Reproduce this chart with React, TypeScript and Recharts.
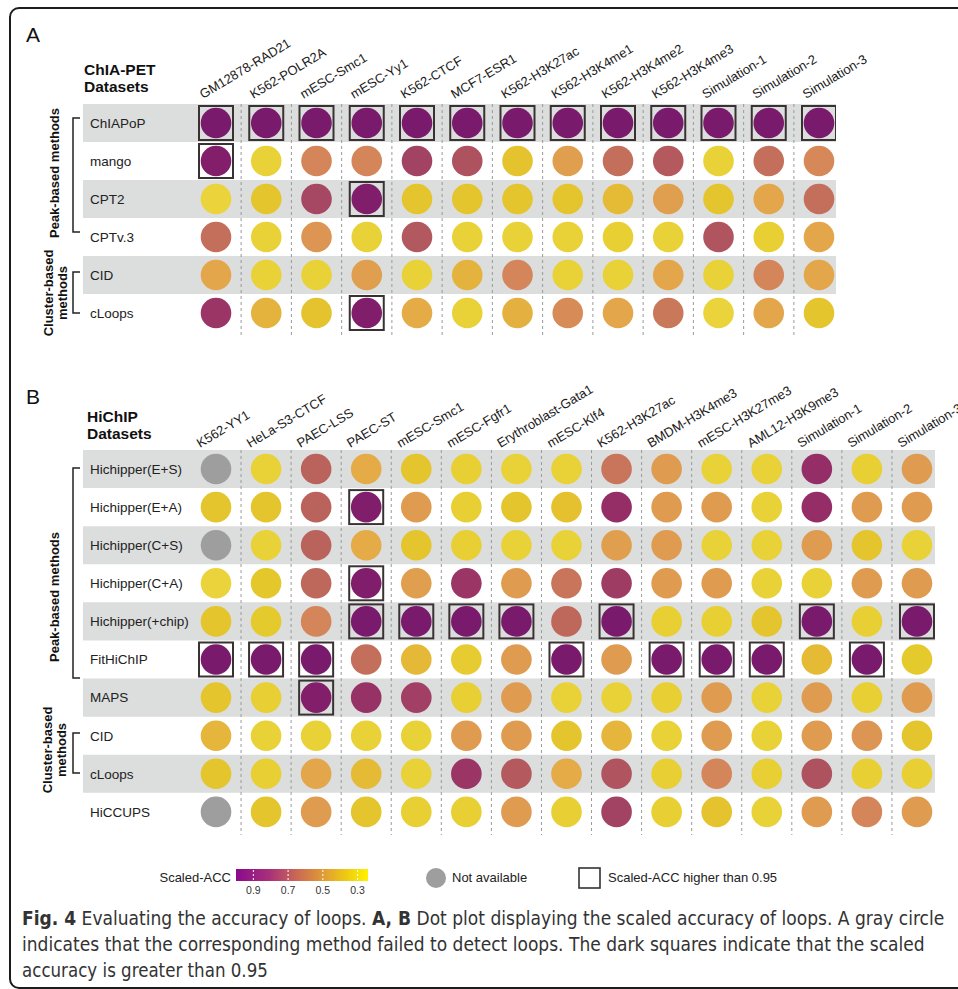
import React, { useLayoutEffect, useRef, useState } from 'react'
import { ScatterChart, Scatter, XAxis, YAxis, ReferenceArea, ReferenceLine } from 'recharts'

const FONT = '"Liberation Sans", Arial, Helvetica, sans-serif'
const CAPTION_FONT = '"DejaVu Sans Condensed", "Liberation Sans Narrow", sans-serif'

// ---- Panel A: ChIA-PET ----
const CHIA_COLS = [
  'GM12878-RAD21', 'K562-POLR2A', 'mESC-Smc1', 'mESC-Yy1', 'K562-CTCF', 'MCF7-ESR1',
  'K562-H3K27ac', 'K562-H3K4me1', 'K562-H3K4me2', 'K562-H3K4me3',
  'Simulation-1', 'Simulation-2', 'Simulation-3',
]
const CHIA_ROWS = ['ChIAPoP', 'mango', 'CPT2', 'CPTv.3', 'CID', 'cLoops']
const CHIA_ACC: (number | null)[][] = [
  [1, 1, 1, 1, 1, 1, 1, 1, 1, 1, 1, 1, 1],
  [0.96, 0.32, 0.6, 0.6, 0.82, 0.77, 0.38, 0.52, 0.67, 0.74, 0.32, 0.67, 0.59],
  [0.31, 0.37, 0.81, 0.97, 0.37, 0.37, 0.37, 0.37, 0.42, 0.52, 0.37, 0.5, 0.67],
  [0.67, 0.32, 0.55, 0.32, 0.75, 0.32, 0.32, 0.32, 0.33, 0.32, 0.76, 0.33, 0.5],
  [0.5, 0.32, 0.32, 0.52, 0.32, 0.45, 0.6, 0.32, 0.32, 0.5, 0.32, 0.6, 0.5],
  [0.86, 0.45, 0.38, 0.97, 0.48, 0.32, 0.46, 0.58, 0.5, 0.64, 0.31, 0.5, 0.37],
]

// ---- Panel B: HiChIP ----
const HICHIP_COLS = [
  'K562-YY1', 'HeLa-S3-CTCF', 'PAEC-LSS', 'PAEC-ST', 'mESC-Smc1', 'mESC-Fgfr1',
  'Erythroblast-Gata1', 'mESC-Klf4', 'K562-H3K27ac', 'BMDM-H3K4me3', 'mESC-H3K27me3',
  'AML12-H3K9me3', 'Simulation-1', 'Simulation-2', 'Simulation-3',
]
const HICHIP_ROWS = [
  'Hichipper(E+S)', 'Hichipper(E+A)', 'Hichipper(C+S)', 'Hichipper(C+A)', 'Hichipper(+chip)',
  'FitHiChIP', 'MAPS', 'CID', 'cLoops', 'HiCCUPS',
]
const HICHIP_ACC: (number | null)[][] = [
  [null, 0.32, 0.71, 0.48, 0.37, 0.33, 0.32, 0.32, 0.65, 0.53, 0.32, 0.32, 0.88, 0.33, 0.53],
  [0.37, 0.37, 0.71, 0.97, 0.53, 0.33, 0.37, 0.39, 0.88, 0.53, 0.53, 0.32, 0.88, 0.53, 0.53],
  [null, 0.32, 0.71, 0.48, 0.37, 0.33, 0.32, 0.32, 0.52, 0.53, 0.32, 0.32, 0.53, 0.37, 0.32],
  [0.31, 0.36, 0.69, 0.97, 0.52, 0.86, 0.53, 0.65, 0.84, 0.53, 0.53, 0.32, 0.32, 0.53, 0.53],
  [0.37, 0.35, 0.6, 1, 1, 1, 1, 0.69, 1, 0.33, 0.33, 0.37, 1, 0.33, 1],
  [1, 1, 1, 0.67, 0.43, 0.34, 0.53, 1, 0.53, 1, 1, 1, 0.42, 1, 0.35],
  [0.37, 0.33, 0.96, 0.87, 0.83, 0.33, 0.53, 0.32, 0.32, 0.33, 0.53, 0.32, 0.53, 0.33, 0.53],
  [0.44, 0.32, 0.32, 0.32, 0.32, 0.53, 0.53, 0.37, 0.44, 0.32, 0.53, 0.32, 0.53, 0.55, 0.37],
  [0.37, 0.33, 0.5, 0.42, 0.32, 0.86, 0.74, 0.48, 0.76, 0.33, 0.6, 0.33, 0.77, 0.33, 0.33],
  [null, 0.37, 0.53, 0.37, 0.33, 0.33, 0.53, 0.33, 0.82, 0.33, 0.38, 0.32, 0.53, 0.6, 0.53],
]

const LEGEND_TICKS = [0.9, 0.7, 0.5, 0.3]
const HIGH_CUTOFF = 0.95

// colour ramp sampled from the dots
const ACC_STOPS: [number, string][] = [
  [0.30, '#ECD73E'],
  [0.36, '#E4C72B'],
  [0.42, '#E5BB35'],
  [0.50, '#E3A64B'],
  [0.60, '#D4855A'],
  [0.70, '#BC655B'],
  [0.80, '#A84A62'],
  [0.90, '#902768'],
  [1.00, '#7A1A6C'],
]

function hex(c: string) {
  return [1, 3, 5].map(i => parseInt(c.slice(i, i + 2), 16))
}

function accColor(v: number) {
  if (v <= ACC_STOPS[0][0]) return ACC_STOPS[0][1]
  for (let i = 1; i < ACC_STOPS.length; i++) {
    const [v1, c1] = ACC_STOPS[i]
    if (v <= v1) {
      const [v0, c0] = ACC_STOPS[i - 1]
      const t = (v - v0) / (v1 - v0)
      const a = hex(c0), b = hex(c1)
      const m = a.map((x, k) => Math.round(x + (b[k] - x) * t))
      return `rgb(${m[0]},${m[1]},${m[2]})`
    }
  }
  return ACC_STOPS[ACC_STOPS.length - 1][1]
}

function Dot(props: any) {
  const { cx, cy, payload } = props
  if (cx == null || cy == null) return <g />
  const v = payload.v
  return (
    <g>
      <circle cx={cx} cy={cy} r={15.3} fill={v == null ? '#9E9E9E' : accColor(v)} />
      {v != null && v > HIGH_CUTOFF && (
        <rect x={cx - 17} y={cy - 17} width={34} height={34} fill="none" stroke="#3a3232" strokeWidth={2} />
      )}
    </g>
  )
}

type PanelProps = {
  cols: string[]
  rows: string[]
  acc: (number | null)[][]
  top: number
  height: number
  plotTop: number      // page px
  plotBottom: number
  plotRight: number
  firstCol: number     // page x of first column centre
  colStep: number
  firstRow: number     // page y of first row centre
  rowStep: number
  labelBase: number    // page y of column label baseline
  labelShift: number
}

const PLOT_LEFT = 83
const ROW_LABEL_X = 90

function DotPanel(p: PanelProps) {
  const data = p.acc.flatMap((r, ri) => r.map((v, ci) => ({ x: ci, y: ri, v })))
  const xDomain = [(PLOT_LEFT - p.firstCol) / p.colStep, (p.plotRight - p.firstCol) / p.colStep]
  const yDomain = [(p.plotTop - p.firstRow) / p.rowStep, (p.plotBottom - p.firstRow) / p.rowStep]
  const axisH = 20
  const margin = { top: p.plotTop - p.top - axisH, left: PLOT_LEFT, right: 958 - p.plotRight, bottom: p.top + p.height - p.plotBottom }

  const colTick = (t: any) => {
    const label = p.cols[t.payload.value]
    const x = t.x + p.labelShift
    const y = p.labelBase - p.top
    return (
      <text x={x} y={y} transform={`rotate(-31 ${x} ${y})`} fontSize={13} fontFamily={FONT} fill="#1a1a1a">
        {label}
      </text>
    )
  }
  const rowTick = (t: any) => (
    <text x={ROW_LABEL_X} y={t.y} dy="0.36em" textAnchor="start" fontSize={13.5} fontFamily={FONT} fill="#222">
      {p.rows[t.payload.value]}
    </text>
  )

  return (
    <div style={{ position: 'absolute', left: 0, top: p.top }}>
      <ScatterChart width={958} height={p.height} margin={margin}>
        {p.rows.map((_, i) => i % 2 === 0 && (
          <ReferenceArea key={'b' + i} y1={i - 0.5} y2={i + 0.5} ifOverflow="hidden"
            fill="#DCDDDD" fillOpacity={1} stroke="none" />
        ))}
        {p.cols.slice(1).map((_, i) => (
          <ReferenceLine key={'l' + i} x={i + 0.5} stroke="#9a9a9a" strokeWidth={1} strokeDasharray="3 3" />
        ))}
        <XAxis type="number" dataKey="x" orientation="top" height={axisH} domain={xDomain} allowDataOverflow
          ticks={p.cols.map((_, i) => i)} interval={0} axisLine={false} tickLine={false} tick={colTick} />
        <YAxis type="number" dataKey="y" mirror width={120} reversed domain={yDomain} allowDataOverflow
          ticks={p.rows.map((_, i) => i)} interval={0} axisLine={false} tickLine={false} tick={rowTick} />
        <Scatter data={data} shape={Dot} isAnimationActive={false} />
      </ScatterChart>
    </div>
  )
}

// one caption line, squeezed horizontally to the width it has in the figure
function CaptionLine({ y, width, children }: { y: number; width: number; children: React.ReactNode }) {
  const ref = useRef<SVGTextElement>(null)
  const [sx, setSx] = useState(1)
  useLayoutEffect(() => {
    if (ref.current) {
      const w = ref.current.getComputedTextLength()
      if (w > 0) setSx(width / w)
    }
  }, [width])
  return (
    <text ref={ref} transform={`translate(22 ${y}) scale(${sx} 1)`} x={0} y={0}
      fontFamily={CAPTION_FONT} fontSize={19.5} fill="#333">
      {children}
    </text>
  )
}

function Annotations() {
  const bold = { fontFamily: FONT, fontWeight: 700, fill: '#111' } as const
  const barX = 236, barW = 132
  const tickX = (v: number) => barX + ((1 - v) / 0.76) * barW
  return (
    <svg width={958} height={989} style={{ position: 'absolute', left: 0, top: 0, pointerEvents: 'none' }}>
      <defs>
        <linearGradient id="accGrad" x1="0" y1="0" x2="1" y2="0">
          <stop offset="0%" stopColor="#8B0A8C" />
          <stop offset="25%" stopColor="#A8307A" />
          <stop offset="45%" stopColor="#C86656" />
          <stop offset="65%" stopColor="#DF9838" />
          <stop offset="85%" stopColor="#EFCF10" />
          <stop offset="100%" stopColor="#FFF200" />
        </linearGradient>
      </defs>

      <text x={26} y={42} fontSize={21} fontFamily={FONT} fill="#111">A</text>
      <text x={26} y={404} fontSize={21} fontFamily={FONT} fill="#111">B</text>

      <text x={84} y={75} fontSize={15.5} {...bold}>ChIA-PET</text>
      <text x={84} y={92} fontSize={15.5} {...bold}>Datasets</text>
      <text x={87} y={422} fontSize={15.5} {...bold}>HiChIP</text>
      <text x={87} y={439} fontSize={15.5} {...bold}>Datasets</text>

      {/* brackets A */}
      <path d="M80,118 H73 V232 H80" fill="none" stroke="#222" strokeWidth={1.5} />
      <path d="M80,272 H73 V313 H80" fill="none" stroke="#222" strokeWidth={1.5} />
      <text transform="translate(59,173) rotate(-90)" textAnchor="middle" fontSize={13} {...bold}>Peak-based methods</text>
      <text transform="translate(53,293) rotate(-90)" textAnchor="middle" fontSize={13} {...bold}>Cluster-based</text>
      <text transform="translate(67,293) rotate(-90)" textAnchor="middle" fontSize={13} {...bold}>methods</text>

      {/* brackets B */}
      <path d="M80,468 H73 V678 H80" fill="none" stroke="#222" strokeWidth={1.5} />
      <path d="M80,733 H73 V773 H80" fill="none" stroke="#222" strokeWidth={1.5} />
      <text transform="translate(59,597) rotate(-90)" textAnchor="middle" fontSize={13} {...bold}>Peak-based methods</text>
      <text transform="translate(52,750) rotate(-90)" textAnchor="middle" fontSize={13} {...bold}>Cluster-based</text>
      <text transform="translate(66,750) rotate(-90)" textAnchor="middle" fontSize={13} {...bold}>methods</text>

      {/* legend */}
      <text x={231} y={882} textAnchor="end" fontSize={13} fontFamily={FONT} fill="#222">Scaled-ACC</text>
      <rect x={barX} y={869} width={barW} height={12} fill="url(#accGrad)" />
      {LEGEND_TICKS.map(v => (
        <g key={v}>
          <line x1={tickX(v)} x2={tickX(v)} y1={870} y2={880} stroke="#fff" strokeWidth={1} strokeDasharray="2 2" />
          <text x={tickX(v)} y={894} textAnchor="middle" fontSize={10.5} fontFamily={FONT} fill="#333">{v}</text>
        </g>
      ))}
      <circle cx={436} cy={878} r={10} fill="#9E9E9E" />
      <text x={452} y={882} fontSize={13} fontFamily={FONT} fill="#222">Not available</text>
      <rect x={579} y={868} width={21} height={20} fill="none" stroke="#333" strokeWidth={1.6} />
      <text x={608} y={882} fontSize={13} fontFamily={FONT} fill="#222">Scaled-ACC higher than 0.95</text>

      {/* caption */}
      <CaptionLine y={925} width={923}>
        <tspan fontWeight={700}>Fig. 4</tspan> Evaluating the accuracy of loops. <tspan fontWeight={700}>A, B</tspan> Dot plot displaying the scaled accuracy of loops. A gray circle
      </CaptionLine>
      <CaptionLine y={951} width={903}>
        indicates that the corresponding method failed to detect loops. The dark squares indicate that the scaled
      </CaptionLine>
      <CaptionLine y={977} width={246}>accuracy is greater than 0.95</CaptionLine>
    </svg>
  )
}

export default function App() {
  return (
    <div style={{ position: 'relative', width: 958, height: 989, overflow: 'hidden', background: '#fff' }}>
      <style>{'body{margin:0}'}</style>
      <div style={{
        position: 'absolute', left: 9, top: 7, width: 1000, height: 978,
        border: '2px solid #1c1c1c', borderRadius: 10,
      }} />
      <DotPanel cols={CHIA_COLS} rows={CHIA_ROWS} acc={CHIA_ACC}
        top={0} height={345} plotTop={104} plotBottom={338} plotRight={836}
        firstCol={216} colStep={50.25} firstRow={123} rowStep={38}
        labelBase={99} labelShift={-13} />
      <DotPanel cols={HICHIP_COLS} rows={HICHIP_ROWS} acc={HICHIP_ACC}
        top={380} height={460} plotTop={450} plotBottom={835} plotRight={935}
        firstCol={216} colStep={50.07} firstRow={469} rowStep={38.1}
        labelBase={448} labelShift={-16} />
      <Annotations />
    </div>
  )
}
